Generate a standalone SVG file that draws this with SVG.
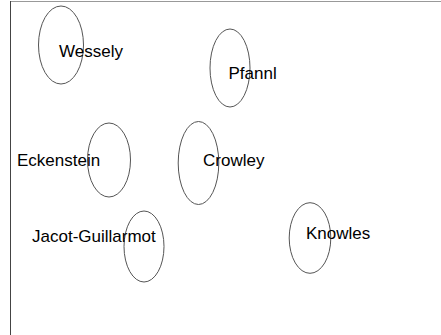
<svg xmlns="http://www.w3.org/2000/svg" width="441" height="335" viewBox="0 0 441 335">
<style>
.n ellipse{fill:none;stroke:#555;stroke-width:1}
.n text{font-family:"Liberation Sans",Arial,sans-serif;font-size:17px;fill:#000}
</style>
<rect width="441" height="335" fill="#fff"/>
<g id="frame">
<line x1="10" y1="1.5" x2="441" y2="1.5" stroke="#999" stroke-width="1"/>
<line x1="10.5" y1="1" x2="10.5" y2="335" stroke="#444" stroke-width="1"/>
</g>
<g id="connectors"></g>
<g id="wessely" class="n"><ellipse cx="61" cy="45" rx="22.5" ry="39"/><text x="59" y="57">Wessely</text></g>
<g id="pfannl" class="n"><ellipse cx="230" cy="68" rx="20" ry="39"/><text x="228.5" y="79">Pfannl</text></g>
<g id="eckenstein" class="n"><ellipse cx="109" cy="160" rx="21.5" ry="37"/><text x="17" y="166">Eckenstein</text></g>
<g id="crowley" class="n"><ellipse cx="198.5" cy="163" rx="20.3" ry="41.5"/><text x="203" y="166">Crowley</text></g>
<g id="jacot" class="n"><ellipse cx="144" cy="246.5" rx="20" ry="35.5"/><text x="32" y="242">Jacot-Guillarmot</text></g>
<g id="knowles" class="n"><ellipse cx="310" cy="238" rx="20.8" ry="35.3"/><text x="306" y="239">Knowles</text></g>
</svg>
